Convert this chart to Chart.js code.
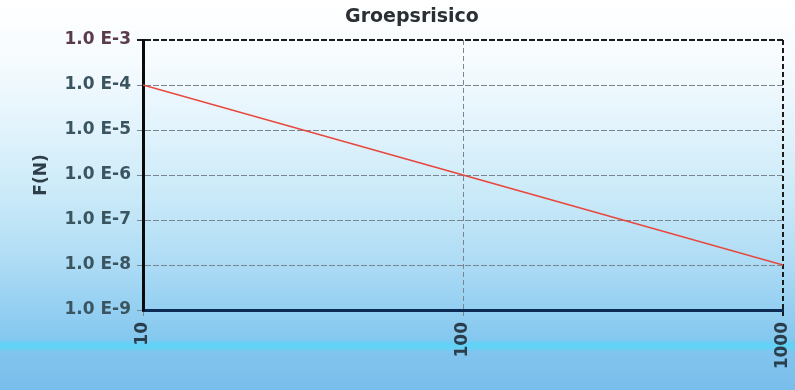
<!DOCTYPE html>
<html>
<head>
<meta charset="utf-8">
<script src="https://cdn.jsdelivr.net/npm/chart.js@4/dist/chart.umd.min.js"></script>
<style>
html,body{margin:0;padding:0;background:#fff;}
#wrap{width:795px;height:390px;}
</style>
</head>
<body>
<div id="wrap"><canvas id="c" width="795" height="390"></canvas></div>
<script>
const chartTitle = 'Groepsrisico';
const yAxisTitle = 'F(N)';
const nValues = [10, 100, 1000];
const fValues = [1e-4, 1e-6, 1e-8];
const xTicks = [10, 100, 1000];
const yTicks = [1e-9, 1e-8, 1e-7, 1e-6, 1e-5, 1e-4, 1e-3];
const yTickLabels = ['1.0 E-9','1.0 E-8','1.0 E-7','1.0 E-6','1.0 E-5','1.0 E-4','1.0 E-3'];

const FONT = '"DejaVu Sans", sans-serif';

const bgPlugin = {
  id: 'bg',
  beforeDraw(chart) {
    const {ctx, width, height} = chart;
    ctx.save();
    const g = ctx.createLinearGradient(0, 0, 0, height);
    g.addColorStop(0, '#ffffff');
    g.addColorStop(60/390, '#f6fbfe');
    g.addColorStop(130/390, '#e1f3fc');
    g.addColorStop(200/390, '#c8e9f8');
    g.addColorStop(260/390, '#afdcf5');
    g.addColorStop(300/390, '#99d2f2');
    g.addColorStop(340/390, '#84c7ef');
    g.addColorStop(1, '#79bdeb');
    ctx.fillStyle = g;
    ctx.fillRect(0, 0, width, height);
    const b = ctx.createLinearGradient(0, 339, 0, 352);
    b.addColorStop(0, 'rgba(95,210,246,0)');
    b.addColorStop(0.4, 'rgba(95,212,247,0.95)');
    b.addColorStop(0.6, 'rgba(95,212,247,0.95)');
    b.addColorStop(1, 'rgba(95,210,246,0)');
    ctx.fillStyle = b;
    ctx.fillRect(0, 339, width, 13);
    ctx.fillStyle = '#2a2f34';
    ctx.font = 'bold 19px ' + FONT;
    ctx.textAlign = 'center';
    ctx.textBaseline = 'middle';
    ctx.fillText(chartTitle, 412, 17);
    ctx.restore();
  }
};

new Chart(document.getElementById('c'), {
  type: 'line',
  data: {
    datasets: [{
      data: nValues.map((n, i) => ({x: n, y: fValues[i]})),
      borderColor: '#e8463c',
      borderWidth: 1.6,
      pointRadius: 0,
      fill: false,
      tension: 0
    }]
  },
  options: {
    responsive: false,
    animation: false,
    layout: {padding: {left: 0, right: 12, top: 40, bottom: 0}},
    plugins: {legend: {display: false}, tooltip: {enabled: false}, title: {display: false}},
    scales: {
      x: {
        type: 'logarithmic',
        min: 10, max: 1000,
        afterBuildTicks(s) { s.ticks = xTicks.map(v => ({value: v})); },
        afterFit(s) { s.height = 80; s.paddingLeft = 0; s.paddingRight = 0; },
        ticks: {
          callback: v => String(v),
          maxRotation: 90, minRotation: 90,
          padding: 6,
          color: '#2b3e4b',
          font: {family: FONT, size: 17, weight: 'bold'},
          autoSkip: false
        },
        grid: {
          color: c => (c.tick && c.tick.value === 1000) ? '#1a1a1a' : '#7a8590',
          lineWidth: c => (c.tick && c.tick.value === 1000) ? 2 : 1,
          tickLength: 6,
          drawTicks: true
        },
        border: {display: true, color: '#0d2a55', width: 3, dash: [5, 3]}
      },
      y: {
        type: 'logarithmic',
        min: 1e-9, max: 1e-3,
        afterBuildTicks(s) { s.ticks = yTicks.map(v => ({value: v})); },
        afterFit(s) { s.width = 143; s.paddingTop = 0; s.paddingBottom = 0; },
        title: {
          display: true, text: yAxisTitle, color: '#2e3e48',
          font: {family: FONT, size: 17, weight: 'bold'},
          padding: {top: 31, bottom: 0}
        },
        ticks: {
          callback: (v) => { const i = yTicks.findIndex(t => Math.abs(Math.log10(t) - Math.log10(v)) < 1e-6); return i >= 0 ? yTickLabels[i] : ''; },
          padding: 6,
          color: c => (c.tick && c.tick.value === 1e-3) ? '#5a3b4d' : '#3b5560',
          font: {family: FONT, size: 17, weight: 'bold'},
          autoSkip: false
        },
        grid: {
          color: c => (c.tick && c.tick.value === 1e-3) ? '#1a1a1a' : '#7a8590',
          lineWidth: c => (c.tick && c.tick.value === 1e-3) ? 2 : 1,
          tickLength: 6,
          drawTicks: true
        },
        border: {display: true, color: '#0a0a0a', width: 3, dash: [6, 2]}
      }
    }
  },
  plugins: [bgPlugin]
});
</script>
</body>
</html>
